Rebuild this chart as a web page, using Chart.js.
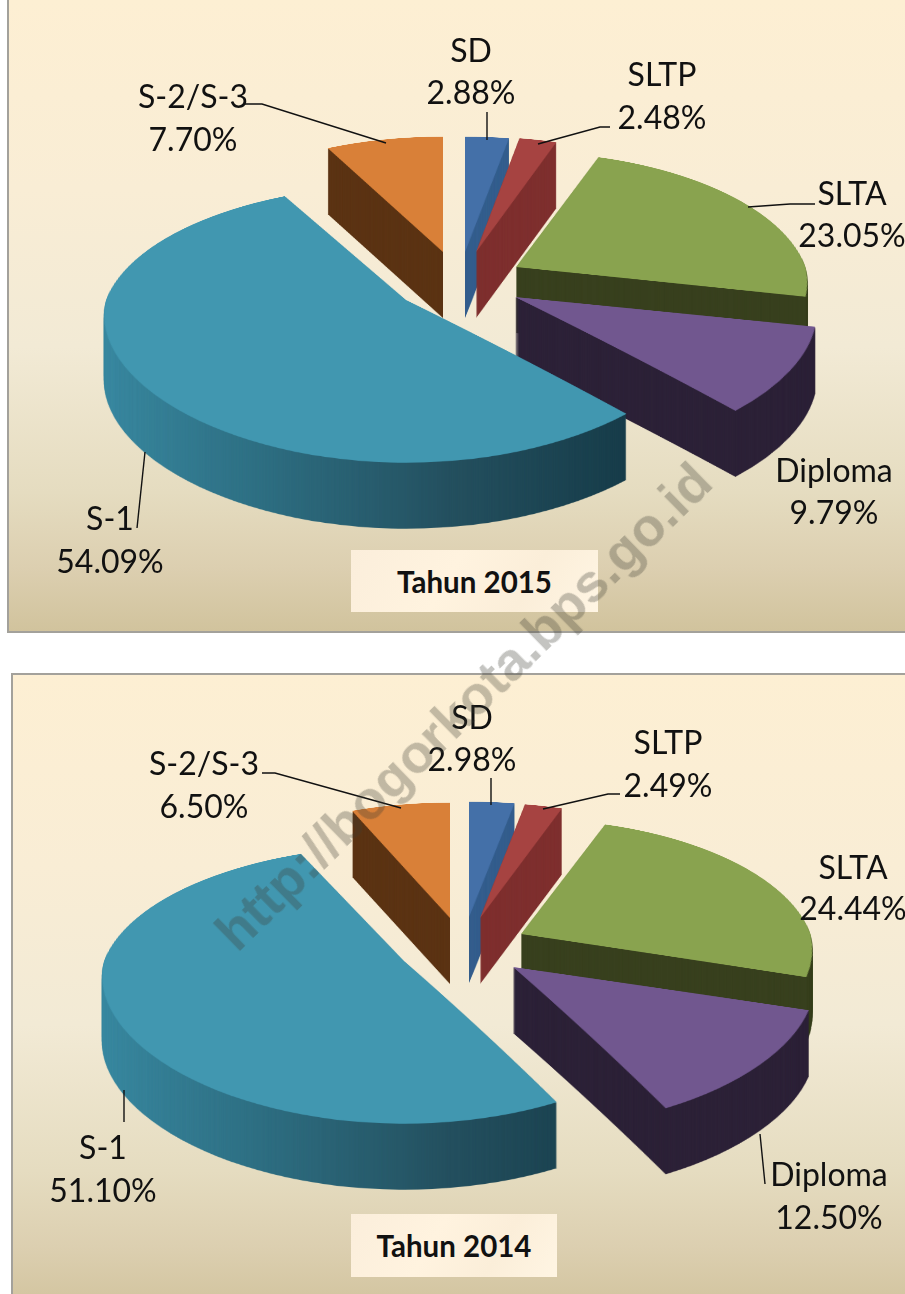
<!DOCTYPE html>
<html><head><meta charset="utf-8">
<script src="https://cdn.jsdelivr.net/npm/chart.js@4"></script>
<style>
html,body{margin:0;padding:0;background:#fff;width:905px;height:1294px;overflow:hidden;position:relative;font-family:Lato,sans-serif;color:#111}
.panel{position:absolute;box-sizing:border-box;border:2px solid #a3a19b;background:linear-gradient(180deg,#fdefd3 0%,#f9edd5 30%,#f2ead5 55%,#e5dcc0 78%,#dccfb0 90%,#d1c39d 100%)}
canvas{position:absolute;left:0}
.box{position:absolute;background:linear-gradient(120deg,#fbeedb,#fff3df 40%,#fbeed9 70%,#fff5e3);display:flex;align-items:center;justify-content:center;font-weight:700;font-size:29.5px}
.lab{position:absolute;transform:translate(-50%,-50%);white-space:nowrap;font-size:32px;line-height:1}
.wm{position:absolute;left:463px;top:706px;transform:translate(-50%,-50%) rotate(-44.4deg);font:bold 54px "Liberation Sans",sans-serif;color:rgba(60,58,50,.3);white-space:nowrap}
</style></head><body>
<div class="panel" style="left:7px;top:-2px;width:920px;height:635px"></div>
<div class="panel" style="left:11px;top:673px;width:920px;height:640px"></div>
<canvas id="c2015" style="top:0"></canvas>
<canvas id="c2014" style="top:640px"></canvas>
<div class="box" style="left:351px;top:550px;width:247px;height:62px" id="t2015"></div>
<div class="box" style="left:351px;top:1214px;width:206px;height:63px" id="t2014"></div>
<div id="labels"></div>
<div class="wm">http://bogorkota.bps.go.id</div>
<script>
const categories = ['SD','SLTP','SLTA','Diploma','S-1','S-2/S-3'];
const values2015 = [2.88,2.48,23.05,9.79,54.09,7.70];
const values2014 = [2.98,2.49,24.44,12.50,51.10,6.50];
const titles = ['Tahun 2015','Tahun 2014'];

const topColors  = ['#4470a8','#a64341','#89a34f','#71578f','#4197b0','#d98038'];
const sideColors = ['#355f8e','#7f302f','#38401e','#2d2238',null,'#5c3414'];
const paintOrder = [0,1,5,2,3,4];
const sliceWidth = [0.95,0.94,0.965,1,1,0.95];

// 3D view: exploded slices, tilted disc with perspective, extruded sides
const EXPLODE = 65, MID_K = 0.47, TILT = 0.45, PERSPECTIVE = 0.17, PERSP_X_FRONT = 0.11, DEPTH = 66;

// label layout: [centre x, first-line y, second-line y], page pixels
const labelPos2015 = [[471,50,92],[662,74,117],[852,193,235],[834,470,512],[110,518,561],[193,96,139]];
const labelPos2014 = [[472,717,759],[668,742,785],[853,867,908],[829,1174,1217],[103,1147,1190],[204,763,806]];
// leader lines, page pixels
const leaders2015 = [[[245,104],[262,104],[386,143]],[[487,112],[487,140]],[[610,127],[600,127],[538,144]],[[815,204],[790,204],[748,207]],[[145,452],[137,528]]];
const leaders2014 = [[[262,773],[275,773],[401,808]],[[491,778],[491,805]],[[620,794],[608,794],[543,809]],[[760,1134],[765,1184]],[[124,1090],[124,1122]]];

const PLAN = 640, OUT_W = 760, OUT_TOP = 170, OUT_H = 380;

function planSlice(el, fill){
  const c = document.createElement('canvas');
  c.width = PLAN; c.height = PLAN;
  const g = c.getContext('2d');
  const saved = el.options;
  const o = Object.create(saved);
  Object.defineProperty(o,'backgroundColor',{value:typeof fill==='function'?fill(g):fill});
  el.options = o;
  g.translate(PLAN/2-el.x, PLAN/2-el.y);
  el.draw(g);
  el.options = saved;
  return c;
}
// resample a plan-view slice row by row through the perspective tilt
function project(plan, R, widthScale){
  const c = document.createElement('canvas');
  c.width = OUT_W; c.height = OUT_H;
  const g = c.getContext('2d');
  g.imageSmoothingEnabled = true;
  const inv = Y => Y/(TILT + PERSPECTIVE*Y/R);
  for(let row=0;row<OUT_H;row++){
    const Y = row-OUT_TOP;
    const v0 = inv(Y), v1 = inv(Y+1);
    const vm = (v0+v1)/2;
    if(Math.abs(vm)>R+4) continue;
    const px = vm>0 ? PERSP_X_FRONT : PERSPECTIVE;
    const s = widthScale/(1-px*vm/R);
    const w = PLAN*s;
    g.drawImage(plan,0,v0+PLAN/2,PLAN,Math.max(v1-v0,0.5),OUT_W/2-w/2,row,w,1);
  }
  return c;
}
function pie3d(centre, offsetTop, leaders){
  return {
    id:'pie3d',
    beforeDatasetsDraw(chart){
      const ctx = chart.ctx, arcs = chart.getDatasetMeta(0).data;
      paintOrder.forEach(i=>{
        const el = arcs[i], R = el.outerRadius;
        const mid = (el.startAngle+el.endAngle)/2;
        const ax = Math.round(centre[0]+Math.cos(mid)*EXPLODE);
        const ay = Math.round(centre[1]+Math.sin(mid)*EXPLODE*MID_K);
        const sideFill = sideColors[i] || (g=>{
          const lg = g.createLinearGradient(el.x-R,0,el.x+R*0.75,0);
          lg.addColorStop(0,'#3a8aa2');
          lg.addColorStop(0.3,'#2f7185');
          lg.addColorStop(0.65,'#24505f');
          lg.addColorStop(1,'#163a47');
          return lg;
        });
        const side = project(planSlice(el,sideFill),R,sliceWidth[i]);
        const top  = project(planSlice(el,topColors[i]),R,sliceWidth[i]);
        const x = ax-OUT_W/2, y = ay-OUT_TOP;
        for(let d=DEPTH;d>=1;d--) ctx.drawImage(side,x,y+d);
        ctx.drawImage(top,x,y);
      });
      return false;
    },
    afterDraw(chart){
      const ctx = chart.ctx;
      ctx.save();
      ctx.strokeStyle='#111'; ctx.lineWidth=1.4;
      leaders.forEach(l=>{
        ctx.beginPath();
        l.forEach((p,j)=> j?ctx.lineTo(p[0],p[1]-offsetTop):ctx.moveTo(p[0],p[1]-offsetTop));
        ctx.stroke();
      });
      ctx.restore();
    }
  };
}
function build(id, values, h, centre, offsetTop, leaders){
  const cv = document.getElementById(id);
  cv.width = 905; cv.height = h;
  const pad = (h-600)/2;
  new Chart(cv,{
    type:'pie',
    data:{labels:categories,datasets:[{data:values,backgroundColor:topColors,borderWidth:0}]},
    options:{
      responsive:false,animation:false,
      layout:{padding:{top:pad,bottom:pad}},
      plugins:{legend:{display:false},tooltip:{enabled:false}}
    },
    plugins:[pie3d(centre,offsetTop,leaders)]
  });
}
build('c2015',values2015,640,[459,282],0,leaders2015);
build('c2014',values2014,654,[463,947.5-640],640,leaders2014);

document.getElementById('t2015').textContent = titles[0];
document.getElementById('t2014').textContent = titles[1];
const host = document.getElementById('labels');
function addLabels(values,pos){
  categories.forEach((c,i)=>{
    [[c,pos[i][1]],[values[i].toFixed(2)+'%',pos[i][2]]].forEach(([t,y])=>{
      const d=document.createElement('div');
      d.className='lab'; d.textContent=t;
      d.style.left=pos[i][0]+'px'; d.style.top=y+'px';
      host.appendChild(d);
    });
  });
}
addLabels(values2015,labelPos2015);
addLabels(values2014,labelPos2014);
</script>
</body></html>
